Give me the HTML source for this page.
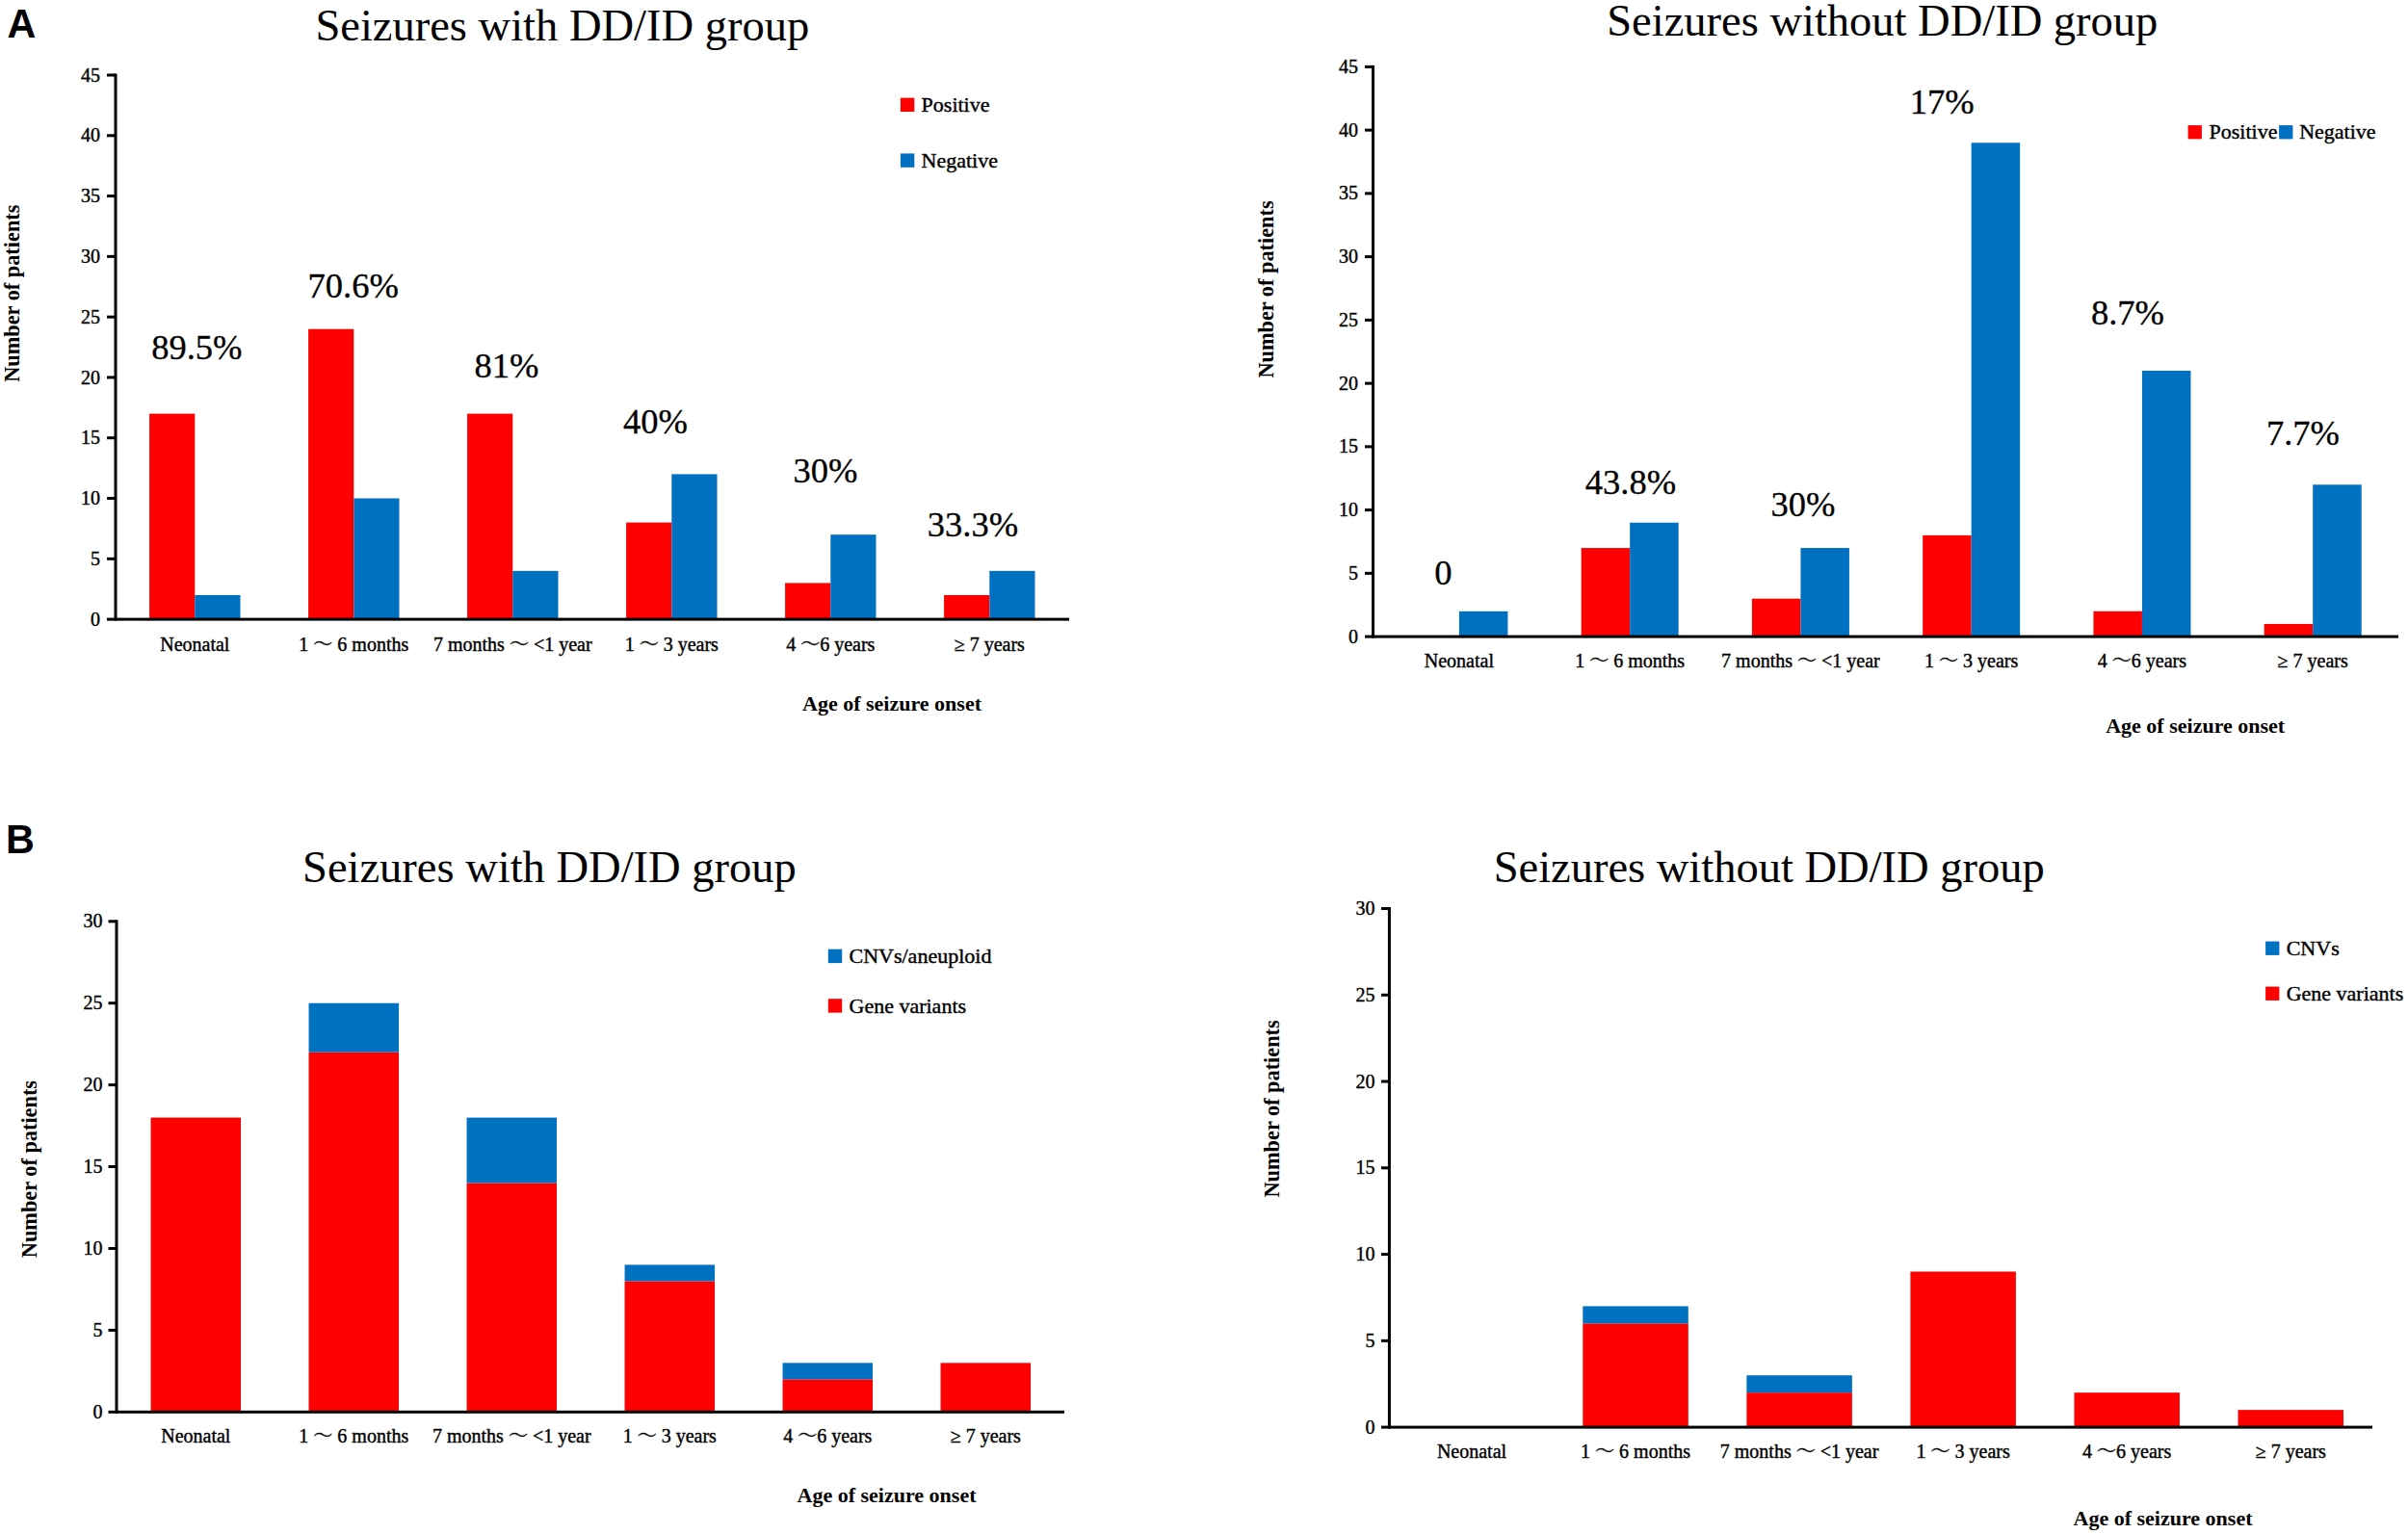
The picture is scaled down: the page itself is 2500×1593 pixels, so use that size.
<!DOCTYPE html>
<html lang="en">
<head>
<meta charset="utf-8">
<title>Seizure onset age and genetic findings</title>
<style>
html,body{margin:0;padding:0;background:#fff;}
body{width:2500px;height:1593px;overflow:hidden;}
svg{display:block;}
text{fill:#000;}
</style>
</head>
<body>
<svg width="2500" height="1593" viewBox="0 0 2500 1593">
<rect x="0" y="0" width="2500" height="1593" fill="#fff"/>
<text transform="translate(7.4 38.9) scale(1 1.05)" font-size="41.3" font-weight="bold" font-family="'Liberation Sans',sans-serif">A</text>
<text transform="translate(6 886) scale(1 1.05)" font-size="41.3" font-weight="bold" font-family="'Liberation Sans',sans-serif">B</text>
<rect x="155.1" y="429.62" width="47.2" height="213.48" fill="#fe0000"/>
<rect x="202.3" y="617.98" width="47.2" height="25.12" fill="#0070c0"/>
<rect x="320.1" y="341.71" width="47.2" height="301.39" fill="#fe0000"/>
<rect x="367.3" y="517.52" width="47.2" height="125.58" fill="#0070c0"/>
<rect x="485.1" y="429.62" width="47.2" height="213.48" fill="#fe0000"/>
<rect x="532.3" y="592.87" width="47.2" height="50.23" fill="#0070c0"/>
<rect x="650.1" y="542.64" width="47.2" height="100.46" fill="#fe0000"/>
<rect x="697.3" y="492.41" width="47.2" height="150.69" fill="#0070c0"/>
<rect x="815.1" y="605.43" width="47.2" height="37.67" fill="#fe0000"/>
<rect x="862.3" y="555.2" width="47.2" height="87.9" fill="#0070c0"/>
<rect x="980.1" y="617.98" width="47.2" height="25.12" fill="#fe0000"/>
<rect x="1027.3" y="592.87" width="47.2" height="50.23" fill="#0070c0"/>
<rect x="118.5" y="76.5" width="3" height="568.1" fill="#000"/>
<rect x="111" y="641.6" width="999" height="3" fill="#000"/>
<text x="104" y="649.7" font-size="20" text-anchor="end" font-weight="normal" font-family="'Liberation Serif','Noto Serif CJK SC',serif" stroke="#000" stroke-width="0.4">0</text>
<rect x="111" y="578.81" width="9" height="3" fill="#000"/>
<text x="104" y="586.91" font-size="20" text-anchor="end" font-weight="normal" font-family="'Liberation Serif','Noto Serif CJK SC',serif" stroke="#000" stroke-width="0.4">5</text>
<rect x="111" y="516.02" width="9" height="3" fill="#000"/>
<text x="104" y="524.12" font-size="20" text-anchor="end" font-weight="normal" font-family="'Liberation Serif','Noto Serif CJK SC',serif" stroke="#000" stroke-width="0.4">10</text>
<rect x="111" y="453.23" width="9" height="3" fill="#000"/>
<text x="104" y="461.33" font-size="20" text-anchor="end" font-weight="normal" font-family="'Liberation Serif','Noto Serif CJK SC',serif" stroke="#000" stroke-width="0.4">15</text>
<rect x="111" y="390.44" width="9" height="3" fill="#000"/>
<text x="104" y="398.54" font-size="20" text-anchor="end" font-weight="normal" font-family="'Liberation Serif','Noto Serif CJK SC',serif" stroke="#000" stroke-width="0.4">20</text>
<rect x="111" y="327.66" width="9" height="3" fill="#000"/>
<text x="104" y="335.76" font-size="20" text-anchor="end" font-weight="normal" font-family="'Liberation Serif','Noto Serif CJK SC',serif" stroke="#000" stroke-width="0.4">25</text>
<rect x="111" y="264.87" width="9" height="3" fill="#000"/>
<text x="104" y="272.97" font-size="20" text-anchor="end" font-weight="normal" font-family="'Liberation Serif','Noto Serif CJK SC',serif" stroke="#000" stroke-width="0.4">30</text>
<rect x="111" y="202.08" width="9" height="3" fill="#000"/>
<text x="104" y="210.18" font-size="20" text-anchor="end" font-weight="normal" font-family="'Liberation Serif','Noto Serif CJK SC',serif" stroke="#000" stroke-width="0.4">35</text>
<rect x="111" y="139.29" width="9" height="3" fill="#000"/>
<text x="104" y="147.39" font-size="20" text-anchor="end" font-weight="normal" font-family="'Liberation Serif','Noto Serif CJK SC',serif" stroke="#000" stroke-width="0.4">40</text>
<rect x="111" y="76.5" width="9" height="3" fill="#000"/>
<text x="104" y="84.6" font-size="20" text-anchor="end" font-weight="normal" font-family="'Liberation Serif','Noto Serif CJK SC',serif" stroke="#000" stroke-width="0.4">45</text>
<text x="202.3" y="676" font-size="20" text-anchor="middle" font-weight="normal" font-family="'Liberation Serif','Noto Serif CJK SC',serif" stroke="#000" stroke-width="0.4">Neonatal</text>
<text x="367.3" y="676" font-size="20" text-anchor="middle" font-weight="normal" font-family="'Liberation Serif','Noto Serif CJK SC',serif" stroke="#000" stroke-width="0.4">1 ～ 6 months</text>
<text x="532.3" y="676" font-size="20" text-anchor="middle" font-weight="normal" font-family="'Liberation Serif','Noto Serif CJK SC',serif" stroke="#000" stroke-width="0.4">7 months ～ &lt;1 year</text>
<text x="697.3" y="676" font-size="20" text-anchor="middle" font-weight="normal" font-family="'Liberation Serif','Noto Serif CJK SC',serif" stroke="#000" stroke-width="0.4">1 ～ 3 years</text>
<text x="862.3" y="676" font-size="20" text-anchor="middle" font-weight="normal" font-family="'Liberation Serif','Noto Serif CJK SC',serif" stroke="#000" stroke-width="0.4">4 ～6 years</text>
<text x="1027.3" y="676" font-size="20" text-anchor="middle" font-weight="normal" font-family="'Liberation Serif','Noto Serif CJK SC',serif" stroke="#000" stroke-width="0.4">≥ 7 years</text>
<text x="583.8" y="42.2" font-size="46.5" text-anchor="middle" font-weight="normal" font-family="'Liberation Serif','Noto Serif CJK SC',serif">Seizures with DD/ID group</text>
<text transform="translate(19.6 304.7) rotate(-90)" font-size="22.3" text-anchor="middle" font-weight="bold" font-family="'Liberation Serif','Noto Serif CJK SC',serif">Number of patients</text>
<text x="926" y="737.6" font-size="22" text-anchor="middle" font-weight="bold" font-family="'Liberation Serif','Noto Serif CJK SC',serif">Age of seizure onset</text>
<text x="204.3" y="373.3" font-size="36.5" text-anchor="middle" font-weight="normal" font-family="'Liberation Serif','Noto Serif CJK SC',serif" stroke="#000" stroke-width="0.3">89.5%</text>
<text x="366.7" y="308.5" font-size="36.5" text-anchor="middle" font-weight="normal" font-family="'Liberation Serif','Noto Serif CJK SC',serif" stroke="#000" stroke-width="0.3">70.6%</text>
<text x="526" y="392.3" font-size="36.5" text-anchor="middle" font-weight="normal" font-family="'Liberation Serif','Noto Serif CJK SC',serif" stroke="#000" stroke-width="0.3">81%</text>
<text x="680.5" y="449.8" font-size="36.5" text-anchor="middle" font-weight="normal" font-family="'Liberation Serif','Noto Serif CJK SC',serif" stroke="#000" stroke-width="0.3">40%</text>
<text x="857" y="501.4" font-size="36.5" text-anchor="middle" font-weight="normal" font-family="'Liberation Serif','Noto Serif CJK SC',serif" stroke="#000" stroke-width="0.3">30%</text>
<text x="1010" y="556.9" font-size="36.5" text-anchor="middle" font-weight="normal" font-family="'Liberation Serif','Noto Serif CJK SC',serif" stroke="#000" stroke-width="0.3">33.3%</text>
<rect x="934.9" y="101.6" width="14.4" height="14.4" fill="#fe0000"/>
<text x="956.6" y="116.1" font-size="22" text-anchor="start" font-weight="normal" font-family="'Liberation Serif','Noto Serif CJK SC',serif" stroke="#000" stroke-width="0.4">Positive</text>
<rect x="934.9" y="159.4" width="14.4" height="14.4" fill="#0070c0"/>
<text x="956.6" y="174.4" font-size="22" text-anchor="start" font-weight="normal" font-family="'Liberation Serif','Noto Serif CJK SC',serif" stroke="#000" stroke-width="0.4">Negative</text>
<rect x="1514.9" y="634.8" width="50.5" height="26.3" fill="#0070c0"/>
<rect x="1641.66" y="569.06" width="50.5" height="92.04" fill="#fe0000"/>
<rect x="1692.16" y="542.76" width="50.5" height="118.34" fill="#0070c0"/>
<rect x="1818.92" y="621.65" width="50.5" height="39.45" fill="#fe0000"/>
<rect x="1869.42" y="569.06" width="50.5" height="92.04" fill="#0070c0"/>
<rect x="1996.18" y="555.91" width="50.5" height="105.19" fill="#fe0000"/>
<rect x="2046.68" y="148.29" width="50.5" height="512.81" fill="#0070c0"/>
<rect x="2173.44" y="634.8" width="50.5" height="26.3" fill="#fe0000"/>
<rect x="2223.94" y="384.97" width="50.5" height="276.13" fill="#0070c0"/>
<rect x="2350.7" y="647.95" width="50.5" height="13.15" fill="#fe0000"/>
<rect x="2401.2" y="503.31" width="50.5" height="157.79" fill="#0070c0"/>
<rect x="1424" y="67.9" width="3" height="594.7" fill="#000"/>
<rect x="1417" y="659.6" width="1073" height="3" fill="#000"/>
<text x="1410" y="667.7" font-size="20" text-anchor="end" font-weight="normal" font-family="'Liberation Serif','Noto Serif CJK SC',serif" stroke="#000" stroke-width="0.4">0</text>
<rect x="1417" y="593.86" width="8.5" height="3" fill="#000"/>
<text x="1410" y="601.96" font-size="20" text-anchor="end" font-weight="normal" font-family="'Liberation Serif','Noto Serif CJK SC',serif" stroke="#000" stroke-width="0.4">5</text>
<rect x="1417" y="528.11" width="8.5" height="3" fill="#000"/>
<text x="1410" y="536.21" font-size="20" text-anchor="end" font-weight="normal" font-family="'Liberation Serif','Noto Serif CJK SC',serif" stroke="#000" stroke-width="0.4">10</text>
<rect x="1417" y="462.37" width="8.5" height="3" fill="#000"/>
<text x="1410" y="470.47" font-size="20" text-anchor="end" font-weight="normal" font-family="'Liberation Serif','Noto Serif CJK SC',serif" stroke="#000" stroke-width="0.4">15</text>
<rect x="1417" y="396.62" width="8.5" height="3" fill="#000"/>
<text x="1410" y="404.72" font-size="20" text-anchor="end" font-weight="normal" font-family="'Liberation Serif','Noto Serif CJK SC',serif" stroke="#000" stroke-width="0.4">20</text>
<rect x="1417" y="330.88" width="8.5" height="3" fill="#000"/>
<text x="1410" y="338.98" font-size="20" text-anchor="end" font-weight="normal" font-family="'Liberation Serif','Noto Serif CJK SC',serif" stroke="#000" stroke-width="0.4">25</text>
<rect x="1417" y="265.13" width="8.5" height="3" fill="#000"/>
<text x="1410" y="273.23" font-size="20" text-anchor="end" font-weight="normal" font-family="'Liberation Serif','Noto Serif CJK SC',serif" stroke="#000" stroke-width="0.4">30</text>
<rect x="1417" y="199.39" width="8.5" height="3" fill="#000"/>
<text x="1410" y="207.49" font-size="20" text-anchor="end" font-weight="normal" font-family="'Liberation Serif','Noto Serif CJK SC',serif" stroke="#000" stroke-width="0.4">35</text>
<rect x="1417" y="133.64" width="8.5" height="3" fill="#000"/>
<text x="1410" y="141.74" font-size="20" text-anchor="end" font-weight="normal" font-family="'Liberation Serif','Noto Serif CJK SC',serif" stroke="#000" stroke-width="0.4">40</text>
<rect x="1417" y="67.9" width="8.5" height="3" fill="#000"/>
<text x="1410" y="76" font-size="20" text-anchor="end" font-weight="normal" font-family="'Liberation Serif','Noto Serif CJK SC',serif" stroke="#000" stroke-width="0.4">45</text>
<text x="1514.9" y="692.6" font-size="20" text-anchor="middle" font-weight="normal" font-family="'Liberation Serif','Noto Serif CJK SC',serif" stroke="#000" stroke-width="0.4">Neonatal</text>
<text x="1692.16" y="692.6" font-size="20" text-anchor="middle" font-weight="normal" font-family="'Liberation Serif','Noto Serif CJK SC',serif" stroke="#000" stroke-width="0.4">1 ～ 6 months</text>
<text x="1869.42" y="692.6" font-size="20" text-anchor="middle" font-weight="normal" font-family="'Liberation Serif','Noto Serif CJK SC',serif" stroke="#000" stroke-width="0.4">7 months ～ &lt;1 year</text>
<text x="2046.68" y="692.6" font-size="20" text-anchor="middle" font-weight="normal" font-family="'Liberation Serif','Noto Serif CJK SC',serif" stroke="#000" stroke-width="0.4">1 ～ 3 years</text>
<text x="2223.94" y="692.6" font-size="20" text-anchor="middle" font-weight="normal" font-family="'Liberation Serif','Noto Serif CJK SC',serif" stroke="#000" stroke-width="0.4">4 ～6 years</text>
<text x="2401.2" y="692.6" font-size="20" text-anchor="middle" font-weight="normal" font-family="'Liberation Serif','Noto Serif CJK SC',serif" stroke="#000" stroke-width="0.4">≥ 7 years</text>
<text x="1954.3" y="36.6" font-size="46.5" text-anchor="middle" font-weight="normal" font-family="'Liberation Serif','Noto Serif CJK SC',serif">Seizures without DD/ID group</text>
<text transform="translate(1322.3 300.5) rotate(-90)" font-size="22.3" text-anchor="middle" font-weight="bold" font-family="'Liberation Serif','Noto Serif CJK SC',serif">Number of patients</text>
<text x="2279.2" y="761.4" font-size="22" text-anchor="middle" font-weight="bold" font-family="'Liberation Serif','Noto Serif CJK SC',serif">Age of seizure onset</text>
<text x="1498.3" y="607.3" font-size="36.5" text-anchor="middle" font-weight="normal" font-family="'Liberation Serif','Noto Serif CJK SC',serif" stroke="#000" stroke-width="0.3">0</text>
<text x="1693" y="513.3" font-size="36.5" text-anchor="middle" font-weight="normal" font-family="'Liberation Serif','Noto Serif CJK SC',serif" stroke="#000" stroke-width="0.3">43.8%</text>
<text x="1872" y="536" font-size="36.5" text-anchor="middle" font-weight="normal" font-family="'Liberation Serif','Noto Serif CJK SC',serif" stroke="#000" stroke-width="0.3">30%</text>
<text x="2016.2" y="118.2" font-size="36.5" text-anchor="middle" font-weight="normal" font-family="'Liberation Serif','Noto Serif CJK SC',serif" stroke="#000" stroke-width="0.3">17%</text>
<text x="2209" y="337.4" font-size="36.5" text-anchor="middle" font-weight="normal" font-family="'Liberation Serif','Noto Serif CJK SC',serif" stroke="#000" stroke-width="0.3">8.7%</text>
<text x="2391" y="462.3" font-size="36.5" text-anchor="middle" font-weight="normal" font-family="'Liberation Serif','Noto Serif CJK SC',serif" stroke="#000" stroke-width="0.3">7.7%</text>
<rect x="2271.6" y="130.1" width="14.3" height="14.3" fill="#fe0000"/>
<text x="2293.5" y="144.4" font-size="22" text-anchor="start" font-weight="normal" font-family="'Liberation Serif','Noto Serif CJK SC',serif" stroke="#000" stroke-width="0.4">Positive</text>
<rect x="2366.1" y="130.1" width="14.3" height="14.3" fill="#0070c0"/>
<text x="2387.2" y="144.4" font-size="22" text-anchor="start" font-weight="normal" font-family="'Liberation Serif','Noto Serif CJK SC',serif" stroke="#000" stroke-width="0.4">Negative</text>
<rect x="156.55" y="1160.6" width="93.5" height="305.7" fill="#fe0000"/>
<rect x="320.55" y="1092.67" width="93.5" height="373.63" fill="#fe0000"/>
<rect x="320.55" y="1041.72" width="93.5" height="50.95" fill="#0070c0"/>
<rect x="484.55" y="1228.53" width="93.5" height="237.77" fill="#fe0000"/>
<rect x="484.55" y="1160.6" width="93.5" height="67.93" fill="#0070c0"/>
<rect x="648.55" y="1330.43" width="93.5" height="135.87" fill="#fe0000"/>
<rect x="648.55" y="1313.45" width="93.5" height="16.98" fill="#0070c0"/>
<rect x="812.55" y="1432.33" width="93.5" height="33.97" fill="#fe0000"/>
<rect x="812.55" y="1415.35" width="93.5" height="16.98" fill="#0070c0"/>
<rect x="976.55" y="1415.35" width="93.5" height="50.95" fill="#fe0000"/>
<rect x="119.5" y="955.3" width="3" height="512.5" fill="#000"/>
<rect x="112.5" y="1464.8" width="992.5" height="3" fill="#000"/>
<text x="106.5" y="1472.9" font-size="20" text-anchor="end" font-weight="normal" font-family="'Liberation Serif','Noto Serif CJK SC',serif" stroke="#000" stroke-width="0.4">0</text>
<rect x="112.5" y="1379.88" width="8.5" height="3" fill="#000"/>
<text x="106.5" y="1387.98" font-size="20" text-anchor="end" font-weight="normal" font-family="'Liberation Serif','Noto Serif CJK SC',serif" stroke="#000" stroke-width="0.4">5</text>
<rect x="112.5" y="1294.97" width="8.5" height="3" fill="#000"/>
<text x="106.5" y="1303.07" font-size="20" text-anchor="end" font-weight="normal" font-family="'Liberation Serif','Noto Serif CJK SC',serif" stroke="#000" stroke-width="0.4">10</text>
<rect x="112.5" y="1210.05" width="8.5" height="3" fill="#000"/>
<text x="106.5" y="1218.15" font-size="20" text-anchor="end" font-weight="normal" font-family="'Liberation Serif','Noto Serif CJK SC',serif" stroke="#000" stroke-width="0.4">15</text>
<rect x="112.5" y="1125.13" width="8.5" height="3" fill="#000"/>
<text x="106.5" y="1133.23" font-size="20" text-anchor="end" font-weight="normal" font-family="'Liberation Serif','Noto Serif CJK SC',serif" stroke="#000" stroke-width="0.4">20</text>
<rect x="112.5" y="1040.22" width="8.5" height="3" fill="#000"/>
<text x="106.5" y="1048.32" font-size="20" text-anchor="end" font-weight="normal" font-family="'Liberation Serif','Noto Serif CJK SC',serif" stroke="#000" stroke-width="0.4">25</text>
<rect x="112.5" y="955.3" width="8.5" height="3" fill="#000"/>
<text x="106.5" y="963.4" font-size="20" text-anchor="end" font-weight="normal" font-family="'Liberation Serif','Noto Serif CJK SC',serif" stroke="#000" stroke-width="0.4">30</text>
<text x="203.3" y="1497.7" font-size="20" text-anchor="middle" font-weight="normal" font-family="'Liberation Serif','Noto Serif CJK SC',serif" stroke="#000" stroke-width="0.4">Neonatal</text>
<text x="367.3" y="1497.7" font-size="20" text-anchor="middle" font-weight="normal" font-family="'Liberation Serif','Noto Serif CJK SC',serif" stroke="#000" stroke-width="0.4">1 ～ 6 months</text>
<text x="531.3" y="1497.7" font-size="20" text-anchor="middle" font-weight="normal" font-family="'Liberation Serif','Noto Serif CJK SC',serif" stroke="#000" stroke-width="0.4">7 months ～ &lt;1 year</text>
<text x="695.3" y="1497.7" font-size="20" text-anchor="middle" font-weight="normal" font-family="'Liberation Serif','Noto Serif CJK SC',serif" stroke="#000" stroke-width="0.4">1 ～ 3 years</text>
<text x="859.3" y="1497.7" font-size="20" text-anchor="middle" font-weight="normal" font-family="'Liberation Serif','Noto Serif CJK SC',serif" stroke="#000" stroke-width="0.4">4 ～6 years</text>
<text x="1023.3" y="1497.7" font-size="20" text-anchor="middle" font-weight="normal" font-family="'Liberation Serif','Noto Serif CJK SC',serif" stroke="#000" stroke-width="0.4">≥ 7 years</text>
<text x="570.4" y="916.1" font-size="46.5" text-anchor="middle" font-weight="normal" font-family="'Liberation Serif','Noto Serif CJK SC',serif">Seizures with DD/ID group</text>
<text transform="translate(37.9 1214.1) rotate(-90)" font-size="22.3" text-anchor="middle" font-weight="bold" font-family="'Liberation Serif','Noto Serif CJK SC',serif">Number of patients</text>
<text x="920.5" y="1560.3" font-size="22" text-anchor="middle" font-weight="bold" font-family="'Liberation Serif','Noto Serif CJK SC',serif">Age of seizure onset</text>
<rect x="859.8" y="985.7" width="14.4" height="14.4" fill="#0070c0"/>
<text x="881.5" y="1000.1" font-size="22" text-anchor="start" font-weight="normal" font-family="'Liberation Serif','Noto Serif CJK SC',serif" stroke="#000" stroke-width="0.4">CNVs/aneuploid</text>
<rect x="859.8" y="1037.2" width="14.4" height="14.4" fill="#fe0000"/>
<text x="881.5" y="1051.7" font-size="22" text-anchor="start" font-weight="normal" font-family="'Liberation Serif','Noto Serif CJK SC',serif" stroke="#000" stroke-width="0.4">Gene variants</text>
<rect x="1643.3" y="1374.38" width="109.5" height="107.72" fill="#fe0000"/>
<rect x="1643.3" y="1356.43" width="109.5" height="17.95" fill="#0070c0"/>
<rect x="1813.35" y="1446.19" width="109.5" height="35.91" fill="#fe0000"/>
<rect x="1813.35" y="1428.24" width="109.5" height="17.95" fill="#0070c0"/>
<rect x="1983.4" y="1320.52" width="109.5" height="161.58" fill="#fe0000"/>
<rect x="2153.45" y="1446.19" width="109.5" height="35.91" fill="#fe0000"/>
<rect x="2323.5" y="1464.15" width="109.5" height="17.95" fill="#fe0000"/>
<rect x="1440.9" y="942" width="3" height="541.6" fill="#000"/>
<rect x="1434" y="1480.6" width="1029" height="3" fill="#000"/>
<text x="1427.5" y="1488.7" font-size="20" text-anchor="end" font-weight="normal" font-family="'Liberation Serif','Noto Serif CJK SC',serif" stroke="#000" stroke-width="0.4">0</text>
<rect x="1434" y="1390.83" width="8.4" height="3" fill="#000"/>
<text x="1427.5" y="1398.93" font-size="20" text-anchor="end" font-weight="normal" font-family="'Liberation Serif','Noto Serif CJK SC',serif" stroke="#000" stroke-width="0.4">5</text>
<rect x="1434" y="1301.07" width="8.4" height="3" fill="#000"/>
<text x="1427.5" y="1309.17" font-size="20" text-anchor="end" font-weight="normal" font-family="'Liberation Serif','Noto Serif CJK SC',serif" stroke="#000" stroke-width="0.4">10</text>
<rect x="1434" y="1211.3" width="8.4" height="3" fill="#000"/>
<text x="1427.5" y="1219.4" font-size="20" text-anchor="end" font-weight="normal" font-family="'Liberation Serif','Noto Serif CJK SC',serif" stroke="#000" stroke-width="0.4">15</text>
<rect x="1434" y="1121.53" width="8.4" height="3" fill="#000"/>
<text x="1427.5" y="1129.63" font-size="20" text-anchor="end" font-weight="normal" font-family="'Liberation Serif','Noto Serif CJK SC',serif" stroke="#000" stroke-width="0.4">20</text>
<rect x="1434" y="1031.77" width="8.4" height="3" fill="#000"/>
<text x="1427.5" y="1039.87" font-size="20" text-anchor="end" font-weight="normal" font-family="'Liberation Serif','Noto Serif CJK SC',serif" stroke="#000" stroke-width="0.4">25</text>
<rect x="1434" y="942" width="8.4" height="3" fill="#000"/>
<text x="1427.5" y="950.1" font-size="20" text-anchor="end" font-weight="normal" font-family="'Liberation Serif','Noto Serif CJK SC',serif" stroke="#000" stroke-width="0.4">30</text>
<text x="1528" y="1513.9" font-size="20" text-anchor="middle" font-weight="normal" font-family="'Liberation Serif','Noto Serif CJK SC',serif" stroke="#000" stroke-width="0.4">Neonatal</text>
<text x="1698.05" y="1513.9" font-size="20" text-anchor="middle" font-weight="normal" font-family="'Liberation Serif','Noto Serif CJK SC',serif" stroke="#000" stroke-width="0.4">1 ～ 6 months</text>
<text x="1868.1" y="1513.9" font-size="20" text-anchor="middle" font-weight="normal" font-family="'Liberation Serif','Noto Serif CJK SC',serif" stroke="#000" stroke-width="0.4">7 months ～ &lt;1 year</text>
<text x="2038.15" y="1513.9" font-size="20" text-anchor="middle" font-weight="normal" font-family="'Liberation Serif','Noto Serif CJK SC',serif" stroke="#000" stroke-width="0.4">1 ～ 3 years</text>
<text x="2208.2" y="1513.9" font-size="20" text-anchor="middle" font-weight="normal" font-family="'Liberation Serif','Noto Serif CJK SC',serif" stroke="#000" stroke-width="0.4">4 ～6 years</text>
<text x="2378.25" y="1513.9" font-size="20" text-anchor="middle" font-weight="normal" font-family="'Liberation Serif','Noto Serif CJK SC',serif" stroke="#000" stroke-width="0.4">≥ 7 years</text>
<text x="1836.7" y="916.3" font-size="46.5" text-anchor="middle" font-weight="normal" font-family="'Liberation Serif','Noto Serif CJK SC',serif">Seizures without DD/ID group</text>
<text transform="translate(1328 1151.4) rotate(-90)" font-size="22.3" text-anchor="middle" font-weight="bold" font-family="'Liberation Serif','Noto Serif CJK SC',serif">Number of patients</text>
<text x="2245.5" y="1584.1" font-size="22" text-anchor="middle" font-weight="bold" font-family="'Liberation Serif','Noto Serif CJK SC',serif">Age of seizure onset</text>
<rect x="2352.1" y="977.6" width="14.3" height="14.3" fill="#0070c0"/>
<text x="2373.7" y="991.9" font-size="22" text-anchor="start" font-weight="normal" font-family="'Liberation Serif','Noto Serif CJK SC',serif" stroke="#000" stroke-width="0.4">CNVs</text>
<rect x="2352.1" y="1024.6" width="14.3" height="14.3" fill="#fe0000"/>
<text x="2373.7" y="1039.2" font-size="22" text-anchor="start" font-weight="normal" font-family="'Liberation Serif','Noto Serif CJK SC',serif" stroke="#000" stroke-width="0.4">Gene variants</text>
</svg>
</body>
</html>
